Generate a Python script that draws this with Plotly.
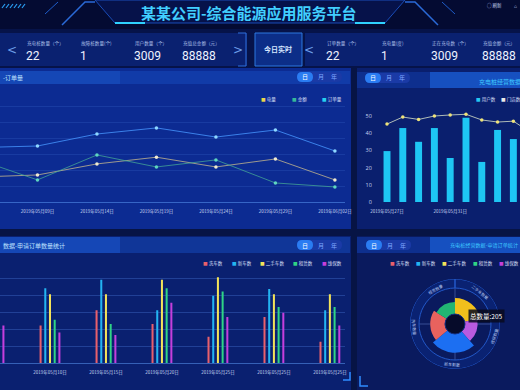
import math
import plotly.graph_objects as go

W, H = 520, 390
CJK = "Noto Sans CJK SC"

# ---------------- data ----------------
title_text = "某某公司-综合能源应用服务平台"
left_stat_labels = ["充电桩数量（个）", "故障桩数量(个)", "用户数量（个）", "充值总金额（元）"]
left_stat_values = ["22", "1", "3009", "88888"]
right_stat_labels = ["订单数量（个）", "充电量(度)", "正在充电数（个）", "充值金额（元）"]
right_stat_values = ["22", "1", "3009", "88888"]

line_dates = ["2019年05月04日", "2019年05月09日", "2019年05月14日", "2019年05月19日",
              "2019年05月24日", "2019年05月29日", "2019年06月02日"]
power_vals = [15.6, 16.9, 23.8, 28.0, 21.9, 26.9, 13.8]    # 电量
amount_vals = [26.5, 13.8, 29.4, 21.9, 26.3, 11.9, 9.4]    # 金额
order_vals = [34.0, 35.0, 42.5, 46.3, 40.6, 45.0, 31.9]    # 订单量

bar_dates = ["2019年05月27日", "2019年05月28日", "2019年05月29日", "2019年05月30日",
             "2019年05月31日", "2019年06月01日", "2019年06月02日", "2019年06月03日",
             "2019年06月04日", "2019年06月05日"]
user_vals = [29.6, 43, 35, 43, 25.6, 49, 23.3, 41.9, 36.6, 30]     # 用户数
store_vals = [45.3, 49.4, 48, 50, 50.6, 51, 47.7, 46.5, 47, 41]    # 门店数

group_dates = ["2019年05月05日", "2019年05月10日", "2019年05月15日", "2019年05月20日",
               "2019年05月25日", "2019年05月25日", "2019年05月25日"]
wash_vals = [40, 44, 62, 46, 31, 54, 25]       # 洗车数
newcar_vals = [70, 88, 98, 62, 79, 87, 62]     # 新车数
used_vals = [60, 81, 81, 98, 101, 81, 81]      # 二手车数
rent_vals = [55, 51, 46, 88, 84, 66, 66]       # 租赁数
maint_vals = [44, 36, 33, 71, 54, 59, 44]      # 维保数

rose_names = ["二手车数", "维保数", "新车数", "洗车数", "租赁数"]
rose_ring_labels = ["二手车数量", "维保数量", "新车数量", "洗车数量", "租赁数量"]
rose_vals = [44, 35, 52, 41, 33]

# ---------------- styles ----------------
C_WASH, C_NEW, C_USED, C_RENT, C_MAINT = "#e8606c", "#23b4f2", "#f3e35a", "#2fd486", "#c53fdc"
ROSE_COLORS = ["#f2c01c", "#b95ae0", "#1c6ff2", "#e8625e", "#22b573"]


def px(x):
    return x / W


def py(y):
    return 1 - y / H


fig = go.Figure()
shapes = []
anns = []


def rect(x0, y0, x1, y1, fill, line=None, lw=0, layer="below", opacity=1):
    shapes.append(dict(type="rect", xref="paper", yref="paper", x0=px(x0), x1=px(x1),
                       y0=py(y1), y1=py(y0), fillcolor=fill, opacity=opacity,
                       line=dict(color=line or "rgba(0,0,0,0)", width=lw), layer=layer))


def path(points, fill=None, line=None, lw=1, close=True, layer="below"):
    d = "M " + " L ".join(f"{px(x):.5f},{py(y):.5f}" for x, y in points)
    if close:
        d += " Z"
    shapes.append(dict(type="path", xref="paper", yref="paper", path=d,
                       fillcolor=fill or "rgba(0,0,0,0)",
                       line=dict(color=line or "rgba(0,0,0,0)", width=lw), layer=layer))


def pill(x0, y0, x1, y1, fill, line=None, layer="below"):
    r = (y1 - y0) / 2
    ym = (y0 + y1) / 2
    P = lambda x, y: f"{px(x):.5f},{py(y):.5f}"
    d = (f"M {P(x0 + r, y0)} L {P(x1 - r, y0)} Q {P(x1, y0)} {P(x1, ym)} Q {P(x1, y1)} {P(x1 - r, y1)} "
         f"L {P(x0 + r, y1)} Q {P(x0, y1)} {P(x0, ym)} Q {P(x0, y0)} {P(x0 + r, y0)} Z")
    shapes.append(dict(type="path", xref="paper", yref="paper", path=d, fillcolor=fill,
                       line=dict(color=line or "rgba(0,0,0,0)", width=1 if line else 0), layer=layer))


def ann(x, y, text, size, color, xanchor="left", yanchor="middle", angle=0, bg=None, family=CJK):
    d = dict(x=px(x), y=py(y), xref="paper", yref="paper", text=text, showarrow=False,
             xanchor=xanchor, yanchor=yanchor, textangle=angle,
             font=dict(size=size, color=color, family=family))
    if bg:
        d.update(bgcolor=bg, borderpad=1)
    anns.append(d)


# ---------------- background blocks ----------------
rect(0, 0, 520, 29, "#040b32")
rect(0, 29, 520, 68, "#061349")
rect(0, 33, 247, 66, "#0a2170")
rect(305, 33, 520, 66, "#0a2170")
rect(255, 33, 302, 66, "#0c2e88", line="#2d78e0", lw=1)
path([(238, 33), (246, 33), (246, 66), (238, 66)], line="#2e70dc", lw=1, close=False)
# panels
rect(0, 68, 351, 229, "#0c2b92")
rect(357, 68, 520, 229, "#0a1f6e")
rect(0, 236, 351, 390, "#0a2070")
rect(357, 236, 520, 390, "#0a1a5e")
# title bars
rect(0, 71, 120, 84, "#1547b6")
rect(120, 71, 350, 84, "rgba(22,72,185,0.55)")
rect(357, 72, 520, 88, "#0e2f8e")
rect(430, 72, 520, 88, "#1650c0")
rect(0, 237, 120, 253, "#1547b6")
rect(120, 237, 350, 253, "rgba(22,72,185,0.55)")
rect(357, 237, 520, 253, "#0e2f8e")
rect(430, 237, 520, 253, "#1650c0")

# header decoration
path([(95, 0), (405, 0), (385, 23), (115, 23)], fill="#06124a", line="#1a4db8", lw=1)
path([(115, 23), (145, 23)], line="#2fd2ff", lw=2, close=False)
path([(355, 23), (385, 23)], line="#2fd2ff", lw=2, close=False)
path([(62, 25), (85, 2), (95, 2)], line="#2a6ad8", lw=1.5, close=False)
path([(438, 25), (415, 2), (405, 2)], line="#2a6ad8", lw=1.5, close=False)
path([(45, 14), (58, 2)], line="#1e5cc8", lw=1, close=False)
path([(455, 14), (442, 2)], line="#1e5cc8", lw=1, close=False)
for i in range(6):
    path([(2 + 4 * i, 8), (5 + 4 * i, 4)], line="#2a9cf0", lw=1.2, close=False)

# toggles 日 月 年
for (tx, ty) in [(297, 77), (365, 78), (297, 245), (366, 245)]:
    pill(tx, ty - 5, tx + 45, ty + 5, "#1a3aa6")
    pill(tx, ty - 5, tx + 16, ty + 5, "#2a7cf2")
    ann(tx + 8, ty, "日", 6, "#ffffff", xanchor="center")
    ann(tx + 24, ty, "月", 6, "#7fa6ff", xanchor="center")
    ann(tx + 37, ty, "年", 6, "#7fa6ff", xanchor="center")

# corner brackets
path([(343, 380), (350, 380), (350, 372)], line="#2f8cff", lw=1.5, close=False)
path([(360, 376), (360, 386), (368, 386)], line="#2f8cff", lw=1.5, close=False)

# ---------------- header text ----------------
ann(249, 12, f"<b>{title_text}</b>", 15, "#41cfff", xanchor="center")
ann(485, 6, "◌ 刷新", 4.5, "#c9d6f5")
ann(512, 6, "⌂", 5, "#c9d6f5")

# stats
ann(12, 50, "<", 12, "#6d9ee8", xanchor="center", family="DejaVu Sans")
ann(238, 50, ">", 12, "#6d9ee8", xanchor="center", family="DejaVu Sans")
ann(309, 50, "<", 12, "#6d9ee8", xanchor="center", family="DejaVu Sans")
for xs, labels, values in [([25, 79, 133, 181], left_stat_labels, left_stat_values),
                           ([325, 380, 430, 481], right_stat_labels, right_stat_values)]:
    for x, lab, val in zip(xs, labels, values):
        ann(x, 43, lab, 4.6, "#a9bde6")
        ann(x - 1, 56, val, 12, "#eef3ff", family="Roboto")
ann(278, 49, "<b>今日实时</b>", 7, "#d6e6ff", xanchor="center")

# panel titles
ann(1, 78, "-订单量", 6, "#bfe2ff")
ann(477, 81, "充电桩经营数据", 6, "#3ec8ff")
ann(1, 245, "数据-申请订单数量统计", 6, "#bfe2ff")
ann(448, 245, "充电桩经营数据-申请订单统计", 5.1, "#3ec8ff")


# legends (annotation based)
def legend_item(x, y, color, label):
    ann(x, y, f'<span style="color:{color}">■</span> {label}', 4.6, "#d4def5", family=CJK)


legend_item(259, 100, "#e9d64a", "电量")
legend_item(290, 100, "#35b89a", "金额")
legend_item(320, 100, "#25d0f0", "订单量")
legend_item(474, 100, "#25c8f2", "用户数")
legend_item(499, 100, "#e9e9e9", "门店数")
for xs in ([201, 230, 258, 291, 320], [388, 414, 440, 471, 497]):
    for x, c, lab in zip(xs, [C_WASH, C_NEW, C_USED, C_RENT, C_MAINT],
                         ["洗车数", "新车数", "二手车数", "租赁数", "维保数"]):
        legend_item(x, 263, c, lab)

# ---------------- panel 1 : lines ----------------
idx1 = list(range(len(line_dates)))
for vals, lc, mc in [(power_vals, "rgba(205,190,140,0.75)", "#f0ead0"),
                     (amount_vals, "rgba(70,170,150,0.75)", "#5fd6c0"),
                     (order_vals, "rgba(70,150,255,0.8)", "#8fd8ff")]:
    fig.add_trace(go.Scatter(x=idx1, y=vals, mode="lines+markers", xaxis="x", yaxis="y",
                             line=dict(color=lc, width=1), marker=dict(size=3.5, color=mc),
                             showlegend=False, cliponaxis=True))

# ---------------- panel 2 : bars + line ----------------
idx2 = list(range(len(bar_dates)))
fig.add_trace(go.Bar(x=idx2, y=user_vals, xaxis="x2", yaxis="y2", width=0.44,
                     marker=dict(color="#1ec6f4", line=dict(width=0)), showlegend=False))
fig.add_trace(go.Scatter(x=idx2, y=store_vals, mode="lines+markers", xaxis="x2", yaxis="y2",
                         line=dict(color="rgba(215,225,200,0.8)", width=1),
                         marker=dict(size=3.5, color="#eee27a"), showlegend=False))

# ---------------- panel 3 : grouped bars ----------------
idx3 = list(range(len(group_dates)))
for vals, c in [(wash_vals, C_WASH), (newcar_vals, C_NEW), (used_vals, C_USED),
                (rent_vals, C_RENT), (maint_vals, C_MAINT)]:
    fig.add_trace(go.Bar(x=idx3, y=vals, xaxis="x3", yaxis="y3",
                         marker=dict(color=c, line=dict(width=0)), showlegend=False))

# ---------------- panel 4 : rose ----------------
total = sum(rose_vals)
widths = [v / total * 360 for v in rose_vals]
centers = []
acc = 0
for w_ in widths:
    centers.append(acc + w_ / 2)
    acc += w_
RING_BASE, RING_TOP = 72, 97
fig.add_trace(go.Barpolar(r=[RING_TOP - RING_BASE], base=[RING_BASE], theta=[180], width=[359.9],
                          marker=dict(color="#0a2272", line=dict(color="#2358c8", width=1)),
                          showlegend=False, hoverinfo="skip"))
fig.add_trace(go.Barpolar(r=rose_vals, theta=centers, width=widths,
                          marker=dict(color=ROSE_COLORS, line=dict(width=0)),
                          text=rose_names, showlegend=False))

# center dark circle
cx, cy = 455, 324
shapes.append(dict(type="circle", xref="paper", yref="paper", x0=px(cx - 10), x1=px(cx + 10),
                   y0=py(cy + 10), y1=py(cy - 10), fillcolor="#060b2a",
                   line=dict(color="#143080", width=1), layer="above"))
# ring labels
Rlab = 40.5
for th, lab in zip(centers, rose_ring_labels):
    t = math.radians(th)
    lx = cx + Rlab * math.sin(t)
    ly = cy - Rlab * math.cos(t)
    ang = th if (th <= 90 or th >= 270) else th - 180
    ann(lx, ly, lab, 4, "#b3c4ee", xanchor="center", angle=ang)
ann(486, 316, f"总数量:{total}", 6.5, "#ffffff", xanchor="center", bg="rgba(8,10,30,0.85)")

# ---------------- layout ----------------
tickfont = dict(size=4.5, color="#c8d4f0", family=CJK)
fig.update_layout(
    width=W, height=H, margin=dict(l=0, r=0, t=0, b=0, autoexpand=False),
    paper_bgcolor="#071445", plot_bgcolor="rgba(0,0,0,0)",
    barmode="group", bargap=0.58, bargroupgap=0.57,
    showlegend=False, shapes=shapes, annotations=anns,
    xaxis=dict(domain=[0, px(345)], range=[0.37, 6.17], tickvals=idx1, ticktext=line_dates,
               tickfont=tickfont, showgrid=False, zeroline=False, showline=True,
               linecolor="rgba(90,150,240,0.55)", ticks="outside", ticklen=5,
               tickcolor="rgba(0,0,0,0)", anchor="y", automargin=False),
    yaxis=dict(domain=[py(202), py(100)], range=[0, 63.75], dtick=10, showticklabels=False,
               gridcolor="rgba(90,140,240,0.16)", zeroline=False, anchor="x", automargin=False),
    xaxis2=dict(domain=[px(378), 1], range=[-0.57, 8.42], tickvals=[0, 4, 8],
                ticktext=[bar_dates[0], bar_dates[4], bar_dates[8]], tickfont=tickfont,
                showgrid=False, zeroline=False, showline=False, ticks="outside", ticklen=5,
                tickcolor="rgba(0,0,0,0)", anchor="y2", automargin=False),
    yaxis2=dict(domain=[py(202), py(105)], range=[0, 56.4], tickvals=[0, 10, 20, 30, 40, 50],
                tickfont=dict(size=5.5, color="#c8d4f0"), showgrid=False, zeroline=False,
                ticks="outside", ticklen=4, tickcolor="rgba(0,0,0,0)", anchor="x2",
                automargin=False),
    xaxis3=dict(domain=[0, px(345)], range=[0.107, 6.27], tickvals=idx3, ticktext=group_dates,
                tickfont=tickfont, showgrid=False, zeroline=False, showline=True,
                linecolor="rgba(90,150,240,0.55)", ticks="outside", ticklen=5,
                tickcolor="rgba(0,0,0,0)", anchor="y3", automargin=False),
    yaxis3=dict(domain=[py(363), py(269.5)], range=[0, 110], dtick=20, showticklabels=False,
                gridcolor="rgba(90,140,240,0.3)", zeroline=False, anchor="x3", automargin=False),
    polar=dict(domain=dict(x=[px(410), px(500)], y=[py(369), py(279)]), hole=10 / 45,
               bgcolor="rgba(0,0,0,0)",
               radialaxis=dict(range=[0, RING_TOP], visible=False),
               angularaxis=dict(direction="clockwise", rotation=90, showticklabels=False,
                                tickvals=[0, 90, 180, 270], ticks="",
                                gridcolor="rgba(140,175,255,0.35)", showline=False)),
)

fig.write_html("out.html")
